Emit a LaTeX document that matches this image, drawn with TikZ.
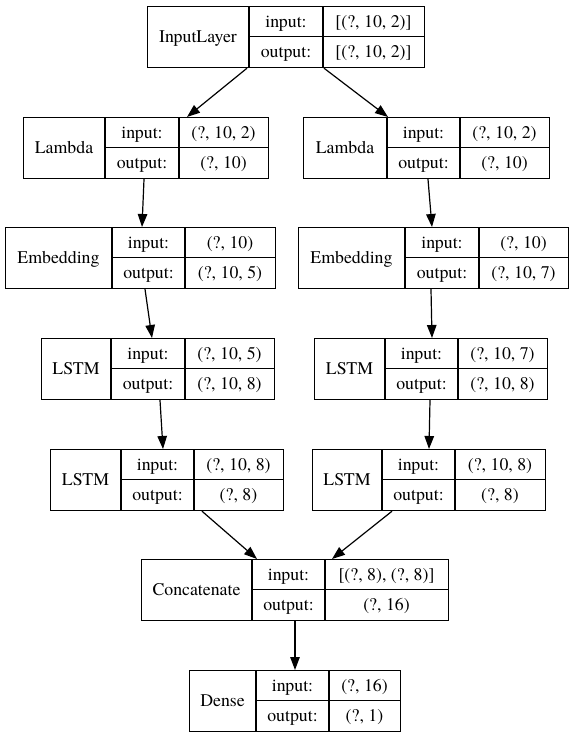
\documentclass[tikz,border=0pt]{standalone}
\usepackage{fontspec}
\newfontfamily\tms{texgyretermes-regular.otf}
\usetikzlibrary{arrows.meta}
\tikzset{
  boxline/.style={line width=1.2pt, draw=black},
  txt/.style={inner sep=0pt, text height=11.8pt, text depth=0pt, font=\tms\fontsize{17.8}{20}\selectfont},
  edge/.style={line width=1.2pt, -{Triangle[length=13pt,width=9.5pt]}}
}
\newcommand\kcells[2]{%
  \node[txt] at ({(\kA+\kB)/2},{(3*\kT+\kBo)/4}) {input:};
  \node[txt] at ({(\kA+\kB)/2},{(\kT+3*\kBo)/4}) {output:};
  \node[txt] at ({(\kB+\kC)/2},{(3*\kT+\kBo)/4}) {#1};
  \node[txt] at ({(\kB+\kC)/2},{(\kT+3*\kBo)/4}) {#2};
}
% #1 name, #2 L, #3 c1, #4 c2, #5 R, #6 T, #7 B, #8 label, #9 {in}{out}
\newcommand\kbox[9]{%
  \def\kA{#3}\def\kB{#4}\def\kC{#5}\def\kT{#6}\def\kBo{#7}%
  \node[boxline, inner sep=0pt, minimum width={(#5-#2)*1pt}, minimum height={(#7-#6)*1pt}, anchor=north west] (#1) at (#2,#6) {};
  \draw[boxline] (#3,#6) -- (#3,#7);
  \draw[boxline] (#4,#6) -- (#4,#7);
  \draw[boxline] (#3,{(#6+#7)/2}) -- (#5,{(#6+#7)/2});
  \node[txt] (#1-label) at ({(#2+#3)/2},{(#6+#7)/2}) {#8};
  \kcells#9
}
\newcommand\kedge[4]{\draw[edge] ([xshift=#2pt]#1.south west) -- ([xshift=#4pt]#3.north west);}
\begin{document}
\begin{tikzpicture}[x=1pt,y=-1pt]
\useasboundingbox (0,0) rectangle (573,737);
\fill[white] (0,0) rectangle (573,737);
\kbox{inp}{147}{249}{323}{424}{6}{67}{InputLayer}{{[(?, 10, 2)]}{[(?, 10, 2)]}}
\kbox{lamL}{23}{105}{179}{268}{117}{178}{Lambda}{{(?, 10, 2)}{(?, 10)}}
\kbox{lamR}{303}{387}{460}{549}{117}{178}{Lambda}{{(?, 10, 2)}{(?, 10)}}
\kbox{embL}{5}{112}{185}{275}{227}{288}{Embedding}{{(?, 10)}{(?, 10, 5)}}
\kbox{embR}{298}{405}{479}{568}{227}{288}{Embedding}{{(?, 10)}{(?, 10, 7)}}
\kbox{lstmLa}{41}{111}{185}{274}{338}{399}{LSTM}{{(?, 10, 5)}{(?, 10, 8)}}
\kbox{lstmRa}{314}{385}{458}{547}{338}{399}{LSTM}{{(?, 10, 7)}{(?, 10, 8)}}
\kbox{lstmLb}{50}{121}{194}{283}{449}{510}{LSTM}{{(?, 10, 8)}{(?, 8)}}
\kbox{lstmRb}{312}{382}{455}{545}{449}{510}{LSTM}{{(?, 10, 8)}{(?, 8)}}
\kbox{cat}{141}{252}{325}{448}{559}{620}{Concatenate}{{[(?, 8), (?, 8)]}{(?, 16)}}
\kbox{dense}{189}{256}{329}{400}{670}{731}{Dense}{{(?, 16)}{(?, 1)}}
\kedge{inp}{100}{lamL}{164}
\kedge{inp}{177}{lamR}{85}
\kedge{lamL}{121}{embL}{137}
\kedge{lamR}{125}{embR}{134}
\kedge{embL}{140}{lstmLa}{111}
\kedge{embR}{133}{lstmRa}{118}
\kedge{lstmLa}{119}{lstmLb}{113}
\kedge{lstmRa}{116}{lstmRb}{117}
\kedge{lstmLb}{152}{cat}{116}
\kedge{lstmRb}{80}{cat}{191}
\kedge{cat}{154}{dense}{106}
\end{tikzpicture}
\end{document}
